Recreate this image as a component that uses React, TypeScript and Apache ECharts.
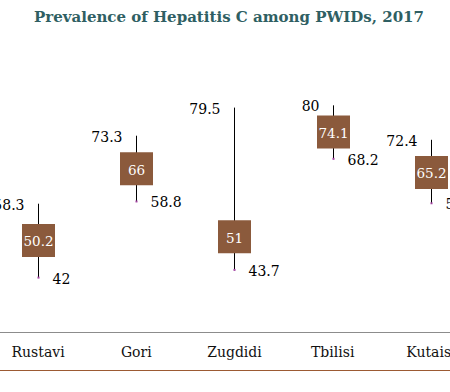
import React, { useEffect, useRef } from "react";
import * as echarts from "echarts";

const categories = ["Rustavi", "Gori", "Zugdidi", "Tbilisi", "Kutaisi"];
const lows = [42, 58.8, 43.7, 68.2, 58.4];
const highs = [58.3, 73.3, 79.5, 80, 72.4];
const estimates = [50.2, 66, 51, 74.1, 65.2];
const titleText = "Prevalence of Hepatitis C among PWIDs, 2017";

const SERIF = '"DejaVu Serif", "Liberation Serif", serif';
const OFFSET = 11;
const INNER_W = 491;

export default function App() {
  const ref = useRef<HTMLDivElement>(null);
  useEffect(() => {
    if (!ref.current) return;
    const chart = echarts.init(ref.current, null, { renderer: "svg" });
    const data = categories.map((c, i) => [i, lows[i], highs[i], estimates[i]]);
    chart.setOption({
      animation: false,
      backgroundColor: "#ffffff",
      grid: { left: 0, right: 0, top: 60, bottom: 60 },
      xAxis: {
        type: "category",
        data: categories,
        boundaryGap: true,
        axisLine: { show: true, lineStyle: { color: "#8c8c8c", width: 1 } },
        axisTick: { show: false },
        axisLabel: {
          fontFamily: SERIF,
          fontSize: 14,
          color: "#111111",
          margin: 13,
        },
      },
      yAxis: {
        type: "value",
        min: 30,
        max: 90,
        show: false,
        splitLine: { show: false },
      },
      graphic: [
        {
          type: "text",
          x: 229 + OFFSET,
          y: 17,
          style: {
            text: titleText,
            align: "center",
            verticalAlign: "middle",
            textAlign: "center",
            textVerticalAlign: "middle",
            font: "bold 15px " + SERIF,
            fill: "#2F5F63",
          },
          silent: true,
        },
        {
          type: "line",
          shape: { x1: 0, y1: 370.5, x2: INNER_W, y2: 370.5 },
          style: { stroke: "#9C5A33", lineWidth: 1 },
          silent: true,
        },
      ],
      series: [
        {
          type: "custom",
          data,
          renderItem: (params: any, api: any) => {
            const i = api.value(0);
            const lo = api.value(1);
            const hi = api.value(2);
            const est = api.value(3);
            const pLo = api.coord([i, lo]);
            const pHi = api.coord([i, hi]);
            const pEst = api.coord([i, est]);
            const x = Math.round(pLo[0]) + 0.5;
            const s = 33;
            const font = "14px " + SERIF;
            return {
              type: "group",
              children: [
                {
                  type: "line",
                  shape: { x1: x, y1: pHi[1], x2: x, y2: pLo[1] },
                  style: { stroke: "#000000", lineWidth: 1 },
                },
                {
                  type: "rect",
                  shape: { x: x - 1, y: pLo[1] - 1, width: 2, height: 2 },
                  style: { fill: "#A040A0" },
                },
                {
                  type: "rect",
                  shape: { x: x - s / 2, y: pEst[1] - s / 2, width: s, height: s },
                  style: { fill: "#8B5A3C" },
                },
                {
                  type: "text",
                  style: {
                    text: String(est),
                    x: x,
                    y: pEst[1] + 1,
                    align: "center",
                    verticalAlign: "middle",
                    textAlign: "center",
                    textVerticalAlign: "middle",
                    font: "13.5px " + SERIF,
                    fill: "#ffffff",
                  },
                },
                {
                  type: "text",
                  style: {
                    text: String(hi),
                    x: x - 14,
                    y: pHi[1] + 1,
                    align: "right",
                    verticalAlign: "middle",
                    textAlign: "right",
                    textVerticalAlign: "middle",
                    font,
                    fill: "#000000",
                  },
                },
                {
                  type: "text",
                  style: {
                    text: String(lo),
                    x: x + 14,
                    y: pLo[1] + 1,
                    align: "left",
                    verticalAlign: "middle",
                    textAlign: "left",
                    textVerticalAlign: "middle",
                    font,
                    fill: "#000000",
                  },
                },
              ],
            };
          },
        },
      ],
    });
    return () => chart.dispose();
  }, []);
  return (
    <div
      style={{
        position: "absolute",
        left: 0,
        top: 0,
        width: 450,
        height: 392,
        overflow: "hidden",
        background: "#ffffff",
      }}
    >
      <div
        ref={ref}
        style={{
          position: "absolute",
          left: -OFFSET,
          top: 0,
          width: INNER_W,
          height: 392,
        }}
      />
    </div>
  );
}
